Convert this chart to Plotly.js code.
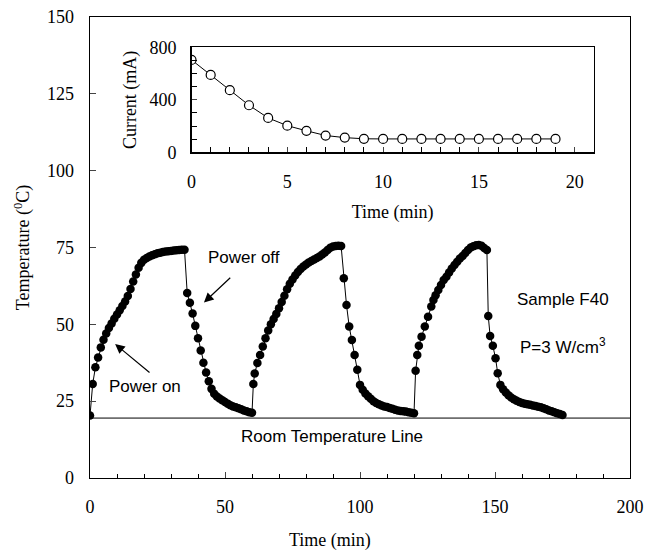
<!DOCTYPE html>
<html>
<head>
<meta charset="utf-8">
<script src="https://cdn.plot.ly/plotly-3.0.1.min.js"></script>
<style>html,body{margin:0;padding:0;background:#fff;}#chart{width:655px;height:554px;}</style>
</head>
<body>
<div id="chart"></div>
<script>
// Main series: temperature vs time
const timeMin = [
  0, 1, 2, 3, 4, 5, 6, 7, 8, 9, 10, 11, 12, 13, 14, 15, 16, 17, 18, 19, 20,
  21, 22, 23, 24, 25, 26, 27, 28, 29, 30, 31, 32, 33, 34, 35,
  36, 37, 38, 39, 40, 41, 42, 43, 44, 45, 46, 47, 48, 49, 50, 51, 52, 53, 54, 55, 56, 57, 58, 59, 60,
  60.5, 61, 62, 63, 64, 65, 66, 67, 68, 69, 70, 71, 72, 73, 74, 75, 76, 77, 78, 79, 80,
  81, 82, 83, 84, 85, 86, 87, 88, 89, 90, 91, 92, 93,
  94, 95, 96, 97, 98, 99, 100, 101, 102, 103, 104, 105, 106, 107, 108, 109, 110,
  111, 112, 113, 114, 115, 116, 117, 118, 119, 120,
  120.6, 121.2, 121.8, 122.8, 124, 125.2, 126.4, 127.2, 128, 129, 130, 131, 132, 133, 134,
  135, 136, 137, 138, 139, 140, 141, 142, 143, 144, 145, 146, 147,
  147.5, 148.2, 149.2, 150.2, 151, 152, 153, 154, 155, 156, 157, 158, 159, 160,
  161, 162, 163, 164, 165, 166, 167, 168, 169, 170, 171, 172, 173, 174, 175
];
const tempC = [
  20.3, 30.6, 36, 39.2, 42.5, 45, 47, 48.8, 50.3, 51.8, 53.2, 54.6, 56, 57.4, 59.2, 61.5, 63.9, 66.2, 68.4, 70, 71,
  71.6, 72.1, 72.5, 72.8, 73.1, 73.3, 73.5, 73.7, 73.8, 73.9, 74, 74.1, 74.2, 74.3, 74.3,
  60.2, 57, 53.5, 49.5, 45.5, 41.5, 37.5, 34.3, 31.5, 29, 27.4, 26.5, 25.9, 25.3, 24.7, 24.2, 23.7, 23.3, 23, 22.7, 22.4, 22, 21.7, 21.4, 21.2,
  30.6, 34, 37.4, 40, 42.8, 45.5, 48, 50, 51.7, 53.4, 55.2, 57.3, 59.3, 61.4, 63.2, 64.6, 65.9, 67, 68, 68.8, 69.5,
  70.1, 70.6, 71.1, 71.6, 72.1, 72.7, 73.4, 74.2, 74.9, 75.3, 75.5, 75.6, 75.5,
  65, 56.3, 49.3, 44.9, 40, 35.2, 30.3, 28.7, 27.5, 26.6, 25.8, 25, 24.4, 24, 23.6, 23.3, 23.1,
  22.8, 22.5, 22.2, 22, 21.8, 21.7, 21.6, 21.4, 21.2, 21.1,
  34.9, 40, 43, 46, 49.3, 52.5, 55.8, 57.9, 59.5, 61.2, 62.8, 64.4, 65.5, 66.9, 68.2,
  69.3, 70.4, 71.4, 72.2, 73.2, 74.2, 75, 75.4, 75.7, 75.8, 75.6, 74.8, 74.2,
  52.7, 46.2, 43, 39, 34.1, 30.3, 28.9, 27.8, 26.9, 26.2, 25.6, 25.1, 24.7, 24.4,
  24.2, 24, 23.8, 23.6, 23.4, 23.2, 23, 22.7, 22.4, 22, 21.7, 21.4, 21.1, 20.8, 20.5
];

// Inset series: current vs time
const insetTime = [0, 1, 2, 3, 4, 5, 6, 7, 8, 9, 10, 11, 12, 13, 14, 15, 16, 17, 18, 19];
const currentMA = [705, 590, 474, 359, 262, 203, 164, 128, 112, 103, 102, 102, 102, 102, 102, 102, 102, 102, 102, 102];

const roomTemp = 19.5;
const xTicksMain = [0, 50, 100, 150, 200];
const yTicksMain = [0, 25, 50, 75, 100, 125, 150];

const serif = 'Liberation Serif, Times New Roman, serif';
const sans = 'Liberation Sans, Arial, sans-serif';
const tickSize = 18;
const annSize = 17;

const traces = [
  {
    x: timeMin, y: tempC, type: 'scatter', mode: 'lines+markers',
    line: {color: '#000', width: 1},
    marker: {color: '#000', size: 8.5},
    xaxis: 'x', yaxis: 'y', hoverinfo: 'skip'
  },
  {
    x: insetTime, y: currentMA, type: 'scatter', mode: 'lines+markers',
    line: {color: '#000', width: 1},
    marker: {color: '#fff', size: 9, line: {color: '#000', width: 1.2}},
    xaxis: 'x2', yaxis: 'y2', hoverinfo: 'skip'
  }
];

const layout = {
  width: 655, height: 554,
  margin: {l: 90, r: 25, t: 17, b: 76},
  paper_bgcolor: '#fff', plot_bgcolor: 'rgba(0,0,0,0)',
  showlegend: false,
  font: {family: serif, color: '#000', size: tickSize},
  xaxis: {
    range: [0, 200], tickvals: xTicksMain, ticks: 'inside', ticklen: 6, tickwidth: 1,
    minor: {dtick: 10, ticks: 'inside', ticklen: 4, tickwidth: 1, tickcolor: '#000'},
    showline: true, linecolor: '#000', linewidth: 1.4, mirror: true, showgrid: false, zeroline: false,
    tickfont: {family: serif, size: tickSize}, ticklabelstandoff: 12
  },
  yaxis: {
    range: [0, 150], tickvals: yTicksMain, ticks: 'inside', ticklen: 6, tickwidth: 1,
    showline: true, linecolor: '#000', linewidth: 1.4, mirror: true, showgrid: false, zeroline: false,
    tickfont: {family: serif, size: tickSize}, ticklabelstandoff: 11,
    title: {text: 'Temperature (<sup>0</sup>C)', font: {family: serif, size: tickSize}, standoff: 12}
  },
  xaxis2: {
    domain: [0.188, 0.933], anchor: 'y2', range: [0, 21], dtick: 5, tick0: 0,
    ticks: 'inside', ticklen: 5, tickwidth: 1,
    minor: {dtick: 1, ticks: 'inside', ticklen: 5, tickwidth: 1, tickcolor: '#000'},
    showline: true, linecolor: '#000', linewidth: 1.4, mirror: true, showgrid: false, zeroline: false,
    tickfont: {family: serif, size: tickSize}, ticklabelstandoff: 13,
    title: {text: 'Time (min)', font: {family: serif, size: tickSize}, standoff: 14}
  },
  yaxis2: {
    domain: [0.7065, 0.934], anchor: 'x2', range: [0, 800], dtick: 400, tick0: 0,
    ticks: 'inside', ticklen: 5, tickwidth: 1,
    minor: {dtick: 100, ticks: 'inside', ticklen: 5, tickwidth: 1, tickcolor: '#000'},
    showline: true, linecolor: '#000', linewidth: 1.4, mirror: true, showgrid: false, zeroline: false,
    tickfont: {family: serif, size: tickSize}, ticklabelstandoff: 10,
    title: {text: 'Current (mA)', font: {family: serif, size: tickSize}, standoff: 8}
  },
  shapes: [
    {type: 'line', xref: 'x', yref: 'y', x0: 0, x1: 200, y0: roomTemp, y1: roomTemp,
     line: {color: '#000', width: 1}}
  ],
  annotations: [
    {x: 0.444, y: -0.1345, xref: 'paper', yref: 'paper', xanchor: 'center', yanchor: 'middle',
     text: 'Time (min)', showarrow: false,
     font: {family: serif, size: tickSize, color: '#000'}},
    {x: 89.6, y: 13.4, xref: 'x', yref: 'y', text: 'Room Temperature Line', showarrow: false,
     font: {family: sans, size: annSize, color: '#000'}},
    {x: 57.2, y: 71.6, xref: 'x', yref: 'y', text: 'Power off', showarrow: false,
     font: {family: sans, size: annSize, color: '#000'}},
    {x: 20.4, y: 29.7, xref: 'x', yref: 'y', text: 'Power on', showarrow: false,
     font: {family: sans, size: annSize, color: '#000'}},
    {x: 42.2, y: 57.1, ax: 52.5, ay: 65.6, xref: 'x', yref: 'y', axref: 'x', ayref: 'y',
     text: '', showarrow: true, arrowhead: 2, arrowsize: 1.6, arrowwidth: 1.2, arrowcolor: '#000'},
    {x: 9.3, y: 43.6, ax: 22.6, ay: 33.9, xref: 'x', yref: 'y', axref: 'x', ayref: 'y',
     text: '', showarrow: true, arrowhead: 2, arrowsize: 1.6, arrowwidth: 1.2, arrowcolor: '#000'},
    {x: 175, y: 58, xref: 'x', yref: 'y', text: 'Sample F40', showarrow: false,
     font: {family: sans, size: annSize, color: '#000'}},
    {x: 175, y: 43, xref: 'x', yref: 'y', text: 'P=3 W/cm<sup>3</sup>', showarrow: false,
     font: {family: sans, size: annSize, color: '#000'}}
  ]
};

Plotly.newPlot('chart', traces, layout, {staticPlot: true, displayModeBar: false});
</script>
</body>
</html>
